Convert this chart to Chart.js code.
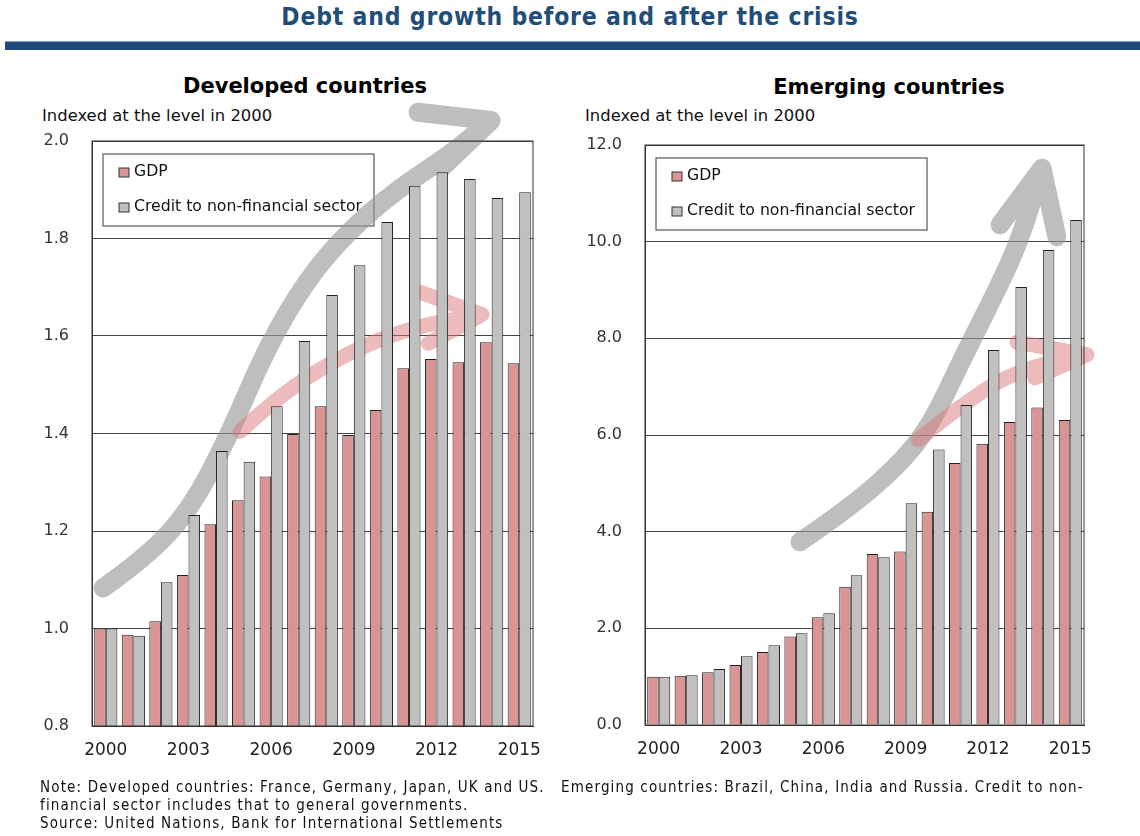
<!DOCTYPE html>
<html>
<head>
<meta charset="utf-8">
<script src="https://cdn.jsdelivr.net/npm/chart.js@4.4.0/dist/chart.umd.min.js"></script>
<style>
  body { margin: 0; width: 1140px; height: 836px; background: #fff; position: relative; overflow: hidden; font-family: "DejaVu Sans", Verdana, sans-serif; }
  #title { position: absolute; top: 2px; left: 0; width: 1140px; text-align: center; font-family: "DejaVu Sans Condensed", "DejaVu Sans", sans-serif; font-weight: bold; font-size: 24.5px; letter-spacing: 0.8px; color: #1f4e79; }
  #rule { position: absolute; top: 41px; left: 5px; width: 1135px; height: 8px; background: #1f497d; border-top: 1px solid #8ea6c4; }
  .sub { position: absolute; font-weight: bold; font-size: 21px; color: #000; text-align: center; width: 400px; }
  .unit { position: absolute; font-size: 16.4px; color: #111; }
  .box { position: absolute; top: 95px; width: 570px; height: 690px; }
  #note { position: absolute; top: 778px; left: 40px; font-family: "DejaVu Sans Condensed", "DejaVu Sans", sans-serif; font-size: 15px; letter-spacing: 1.15px; line-height: 18px; color: #111; white-space: pre; }
</style>
</head>
<body>
<div id="title">Debt and growth before and after the crisis</div>
<div id="rule"></div>
<div class="sub" style="left:105px; top:74px;">Developed countries</div>
<div class="sub" style="left:689px; top:75px;">Emerging countries</div>
<div class="unit" style="left:42px; top:106px;">Indexed at the level in 2000</div>
<div class="unit" style="left:585px; top:106px;">Indexed at the level in 2000</div>
<div class="box" style="left:0px;"><canvas id="devChart"></canvas></div>
<div class="box" style="left:570px;"><canvas id="emgChart"></canvas></div>
<div id="note">Note: Developed countries: France, Germany, Japan, UK and US.   Emerging countries: Brazil, China, India and Russia. Credit to non-
financial sector includes that to general governments.
Source: United Nations, Bank for International Settlements</div>
<script>
// data
const years = ["2000", "2001", "2002", "2003", "2004", "2005", "2006", "2007",
               "2008", "2009", "2010", "2011", "2012", "2013", "2014", "2015"];
const shownYears = ["2000", "2003", "2006", "2009", "2012", "2015"];
const seriesNames = ["GDP", "Credit to non-financial sector"];

const devGdp    = [1.000, 0.987, 1.015, 1.110, 1.214, 1.263, 1.312, 1.399, 1.456, 1.397, 1.448, 1.534, 1.553, 1.546, 1.587, 1.544];
const devCredit = [1.000, 0.985, 1.095, 1.233, 1.364, 1.342, 1.456, 1.590, 1.684, 1.745, 1.834, 1.908, 1.936, 1.922, 1.883, 1.895];
const emgGdp    = [1.00, 1.02, 1.09, 1.24, 1.51, 1.83, 2.23, 2.86, 3.54, 3.59, 4.41, 5.42, 5.82, 6.27, 6.57, 6.31];
const emgCredit = [1.00, 1.03, 1.16, 1.42, 1.65, 1.90, 2.31, 3.10, 3.47, 4.59, 5.70, 6.62, 7.76, 9.06, 9.83, 10.45];

// decorative trend arrows, in (category index, value) units
const devCreditArrow = { shaft: [[-0.1, 1.083], [1.5, 1.147], [3.06, 1.244], [4.4, 1.387], [5.85, 1.578], [7.3, 1.716], [8.75, 1.812], [10.57, 1.901], [12.49, 1.972], [13.98, 2.042]],
                         barbs: [[11.33, 2.059], [13.98, 2.042], [12.2, 1.946]] };
const devGdpArrow    = { shaft: [[4.87, 1.404], [6.32, 1.48], [8.75, 1.566], [11.15, 1.619], [13.65, 1.644]],
                         barbs: [[11.44, 1.689], [13.65, 1.644], [11.7, 1.585]] };
const emgCreditArrow = { shaft: [[5.15, 3.79], [6.86, 4.45], [8.68, 5.34], [9.89, 6.17], [11.09, 7.61], [12.33, 9.0], [13.17, 10.04], [13.97, 11.52]],
                         barbs: [[12.44, 10.35], [13.97, 11.52], [14.51, 10.1]] };
const emgGdpArrow    = { shaft: [[9.45, 5.9], [11.71, 6.93], [13.53, 7.41], [15.61, 7.66]],
                         barbs: [[13.06, 7.92], [15.61, 7.66], [13.71, 7.18]] };

const FONT = "'DejaVu Sans', Verdana, sans-serif";
const GDP_COLOR = "#d99594";
const CREDIT_COLOR = "#c0c0c0";

function drawArrow(chart, arrow, color, width) {
    const ctx = chart.ctx;
    const xs = chart.scales.x, ys = chart.scales.y;
    const px = p => [xs.getPixelForValue(p[0]), ys.getPixelForValue(p[1])];
    const pts = arrow.shaft.map(px);
    ctx.save();
    ctx.beginPath();
    ctx.moveTo(pts[0][0], pts[0][1]);
    for (let i = 1; i < pts.length - 1; i++) {
        const mx = (pts[i][0] + pts[i + 1][0]) / 2, my = (pts[i][1] + pts[i + 1][1]) / 2;
        ctx.quadraticCurveTo(pts[i][0], pts[i][1], mx, my);
    }
    ctx.lineTo(pts[pts.length - 1][0], pts[pts.length - 1][1]);
    const b = arrow.barbs.map(px);
    ctx.moveTo(b[0][0], b[0][1]);
    ctx.lineTo(b[1][0], b[1][1]);
    ctx.lineTo(b[2][0], b[2][1]);
    ctx.lineCap = "round";
    ctx.lineJoin = "round";
    ctx.lineWidth = width;
    ctx.strokeStyle = color;
    ctx.stroke();
    ctx.restore();
}

// legend box + frame + arrows
const decorPlugin = {
    id: "decor",
    beforeDatasetsDraw(chart, args, opts) {
        const ctx = chart.ctx, a = chart.chartArea;
        // legend box
        const lx = a.left + 11, ly = a.top + 13;
        ctx.save();
        ctx.strokeStyle = "#555";
        ctx.lineWidth = 1.2;
        ctx.strokeRect(lx, ly, 271, 72);
        ctx.font = "15.7px " + FONT;
        ctx.textBaseline = "middle";
        chart.data.datasets.forEach((ds, i) => {
            const cy = ly + 18 + i * 35;
            ctx.fillStyle = ds.backgroundColor;
            ctx.fillRect(lx + 16, cy - 4, 10, 9);
            ctx.strokeStyle = "#333";
            ctx.lineWidth = 1;
            ctx.strokeRect(lx + 16, cy - 4, 10, 9);
            ctx.fillStyle = "#111";
            ctx.fillText(ds.label, lx + 31, cy);
        });
        ctx.restore();
        drawArrow(chart, opts.creditArrow, "rgba(150,150,150,0.62)", 19);
        drawArrow(chart, opts.gdpArrow, "rgba(220,120,120,0.5)", 15);
    },
    afterDraw(chart) {
        const ctx = chart.ctx, a = chart.chartArea;
        ctx.save();
        ctx.strokeStyle = "#333";
        ctx.lineWidth = 1;
        ctx.strokeRect(a.left, a.top, a.right - a.left, a.bottom - a.top);
        ctx.restore();
    }
};

function makeChart(id, gdp, credit, yMin, yMax, step, pad, arrows) {
    return new Chart(document.getElementById(id), {
        type: "bar",
        data: {
            labels: years,
            datasets: [
                { label: seriesNames[0], data: gdp, backgroundColor: GDP_COLOR, borderColor: "#222", borderWidth: 1 },
                { label: seriesNames[1], data: credit, backgroundColor: CREDIT_COLOR, borderColor: "#222", borderWidth: 1 }
            ]
        },
        options: {
            responsive: true,
            maintainAspectRatio: false,
            animation: false,
            layout: { padding: pad },
            datasets: { bar: { categoryPercentage: 0.84, barPercentage: 1.0 } },
            plugins: {
                legend: { display: false },
                tooltip: { enabled: false },
                decor: arrows
            },
            scales: {
                x: {
                    grid: { display: false, drawTicks: false },
                    border: { color: "#333" },
                    ticks: {
                        autoSkip: false, maxRotation: 0, padding: 14, color: "#222",
                        font: { family: FONT, size: 17 },
                        callback: (v, i) => shownYears.includes(years[i]) ? years[i] : ""
                    },
                    afterFit: axis => { axis.height = 44; }
                },
                y: {
                    min: yMin, max: yMax,
                    grid: { color: "#444", lineWidth: 1, drawTicks: false },
                    border: { color: "#333" },
                    ticks: {
                        stepSize: step, padding: 23, color: "#333",
                        font: { family: FONT, size: 16 },
                        callback: v => v.toFixed(1)
                    },
                    afterFit: axis => { axis.width = 62; }
                }
            }
        },
        plugins: [decorPlugin]
    });
}

makeChart("devChart", devGdp, devCredit, 0.8, 2.0, 0.2,
    { left: 30, right: 37, top: 46, bottom: 15 },
    { creditArrow: devCreditArrow, gdpArrow: devGdpArrow });
makeChart("emgChart", emgGdp, emgCredit, 0, 12, 2,
    { left: 13, right: 56, top: 50, bottom: 16 },
    { creditArrow: emgCreditArrow, gdpArrow: emgGdpArrow });
</script>
</body>
</html>
